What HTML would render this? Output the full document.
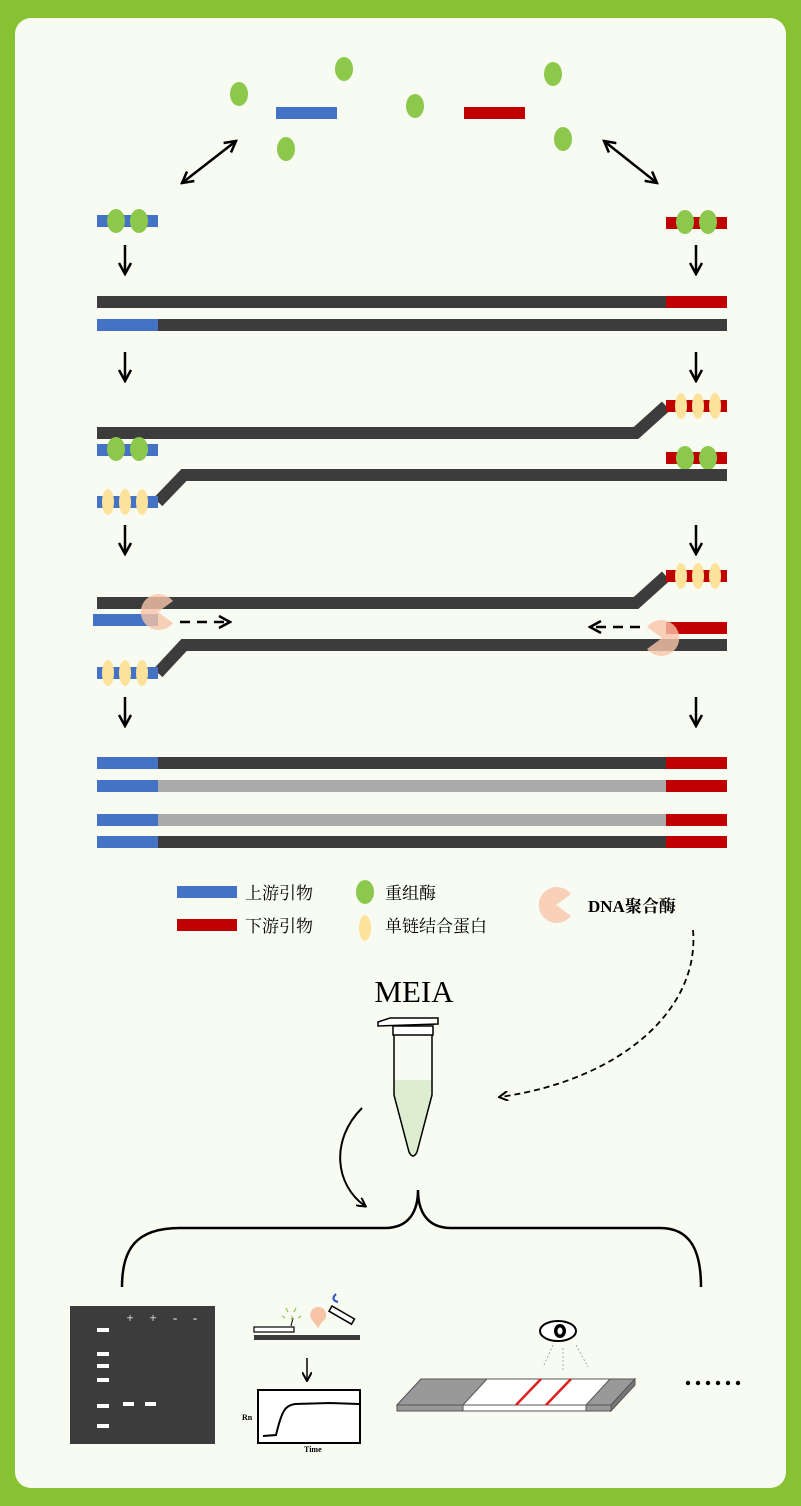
<!DOCTYPE html>
<html><head><meta charset="utf-8"><style>
html,body{margin:0;padding:0;background:#86c232;}
svg{display:block}
text{font-family:"Liberation Serif","Noto Serif CJK SC",serif;}
</style></head><body>
<svg width="801" height="1506" viewBox="0 0 801 1506" xmlns="http://www.w3.org/2000/svg">
<defs>
<marker id="ah" markerWidth="10" markerHeight="10" refX="8" refY="5" orient="auto" markerUnits="userSpaceOnUse"><path d="M0,0 L9,5 L0,10" fill="none" stroke="#000" stroke-width="2"/></marker>
<marker id="ah2" markerWidth="14" markerHeight="14" refX="12" refY="7" orient="auto-start-reverse" markerUnits="userSpaceOnUse"><path d="M1,1 L12,7 L1,13" fill="none" stroke="#000" stroke-width="2.5"/></marker>
<g id="pac"><path d="M0,0 L15,-11 A18,18 0 1 0 15,11 Z" fill="#f7c4a8" opacity="0.8"/></g>
<g id="pacR"><path d="M0,0 L-15,-11 A18,18 0 1 1 -15,11 Z" fill="#f7c4a8" opacity="0.8"/></g>
</defs>
<rect width="801" height="1506" fill="#86c232"/>
<rect x="15" y="18" width="771" height="1470" rx="16" fill="#f7fbf2"/>

<g fill="#8cc84b">
<ellipse cx="239" cy="94" rx="9" ry="12"/><ellipse cx="344" cy="69" rx="9" ry="12"/><ellipse cx="286" cy="149" rx="9" ry="12"/>
<ellipse cx="415" cy="106" rx="9" ry="12"/><ellipse cx="553" cy="74" rx="9" ry="12"/><ellipse cx="563" cy="139" rx="9" ry="12"/>
</g>
<rect x="276" y="107" width="61" height="12" fill="#4472c4"/>
<rect x="464" y="107" width="61" height="12" fill="#c00000"/>
<line x1="182" y1="183" x2="236" y2="141" stroke="#000" stroke-width="2.5" marker-end="url(#ah2)" marker-start="url(#ah2)"/>
<line x1="604" y1="141" x2="657" y2="183" stroke="#000" stroke-width="2.5" marker-end="url(#ah2)" marker-start="url(#ah2)"/>

<rect x="97" y="215" width="61" height="12" fill="#4472c4"/>
<g fill="#8cc84b"><ellipse cx="116" cy="221" rx="9" ry="12"/><ellipse cx="139" cy="221" rx="9" ry="12"/></g>
<rect x="666" y="217" width="61" height="12" fill="#c00000"/>
<g fill="#8cc84b"><ellipse cx="685" cy="222" rx="9" ry="12"/><ellipse cx="708" cy="222" rx="9" ry="12"/></g>

<g stroke="#000" stroke-width="2.5" fill="none">
<line x1="125" y1="245" x2="125" y2="274" marker-end="url(#ah2)"/>
<line x1="696" y1="245" x2="696" y2="274" marker-end="url(#ah2)"/>
<line x1="125" y1="352" x2="125" y2="381" marker-end="url(#ah2)"/>
<line x1="696" y1="352" x2="696" y2="381" marker-end="url(#ah2)"/>
<line x1="125" y1="525" x2="125" y2="554" marker-end="url(#ah2)"/>
<line x1="696" y1="525" x2="696" y2="554" marker-end="url(#ah2)"/>
<line x1="125" y1="697" x2="125" y2="726" marker-end="url(#ah2)"/>
<line x1="696" y1="697" x2="696" y2="726" marker-end="url(#ah2)"/>
</g>

<rect x="97" y="296" width="569" height="12" fill="#3c3c3c"/>
<rect x="666" y="296" width="61" height="12" fill="#c00000"/>
<rect x="97" y="319" width="61" height="12" fill="#4472c4"/>
<rect x="158" y="319" width="569" height="12" fill="#3c3c3c"/>

<path d="M97,433 L636,433 L666,406" fill="none" stroke="#3c3c3c" stroke-width="12"/>
<rect x="666" y="400" width="61" height="12" fill="#c00000"/>
<g fill="#fde29c"><ellipse cx="681" cy="406" rx="6" ry="13"/><ellipse cx="698" cy="406" rx="6" ry="13"/><ellipse cx="715" cy="406" rx="6" ry="13"/></g>
<rect x="97" y="444" width="61" height="12" fill="#4472c4"/>
<g fill="#8cc84b"><ellipse cx="116" cy="449" rx="9" ry="12"/><ellipse cx="139" cy="449" rx="9" ry="12"/></g>
<rect x="666" y="452" width="61" height="12" fill="#c00000"/>
<g fill="#8cc84b"><ellipse cx="685" cy="458" rx="9" ry="12"/><ellipse cx="708" cy="458" rx="9" ry="12"/></g>
<path d="M158,502 L184,475 L727,475" fill="none" stroke="#3c3c3c" stroke-width="12"/>
<rect x="97" y="496" width="61" height="12" fill="#4472c4"/>
<g fill="#fde29c"><ellipse cx="108" cy="502" rx="6" ry="13"/><ellipse cx="125" cy="502" rx="6" ry="13"/><ellipse cx="142" cy="502" rx="6" ry="13"/></g>

<path d="M97,603 L636,603 L666,576" fill="none" stroke="#3c3c3c" stroke-width="12"/>
<rect x="666" y="570" width="61" height="12" fill="#c00000"/>
<g fill="#fde29c"><ellipse cx="681" cy="576" rx="6" ry="13"/><ellipse cx="698" cy="576" rx="6" ry="13"/><ellipse cx="715" cy="576" rx="6" ry="13"/></g>
<rect x="93" y="614" width="65" height="12" fill="#4472c4"/>
<use href="#pac" x="158" y="612"/>
<line x1="180" y1="622" x2="230" y2="622" stroke="#000" stroke-width="2.5" stroke-dasharray="10,7" marker-end="url(#ah2)"/>
<path d="M158,673 L184,645 L727,645" fill="none" stroke="#3c3c3c" stroke-width="12"/>
<rect x="666" y="622" width="61" height="12" fill="#c00000"/>
<use href="#pacR" x="662" y="638"/>
<line x1="640" y1="627" x2="590" y2="627" stroke="#000" stroke-width="2.5" stroke-dasharray="10,7" marker-end="url(#ah2)"/>
<rect x="97" y="667" width="61" height="12" fill="#4472c4"/>
<g fill="#fde29c"><ellipse cx="108" cy="673" rx="6" ry="13"/><ellipse cx="125" cy="673" rx="6" ry="13"/><ellipse cx="142" cy="673" rx="6" ry="13"/></g>

<g>
<rect x="97" y="757" width="61" height="12" fill="#4472c4"/><rect x="158" y="757" width="508" height="12" fill="#3c3c3c"/><rect x="666" y="757" width="61" height="12" fill="#c00000"/>
<rect x="97" y="780" width="61" height="12" fill="#4472c4"/><rect x="158" y="780" width="508" height="12" fill="#aaaaaa"/><rect x="666" y="780" width="61" height="12" fill="#c00000"/>
<rect x="97" y="814" width="61" height="12" fill="#4472c4"/><rect x="158" y="814" width="508" height="12" fill="#aaaaaa"/><rect x="666" y="814" width="61" height="12" fill="#c00000"/>
<rect x="97" y="836" width="61" height="12" fill="#4472c4"/><rect x="158" y="836" width="508" height="12" fill="#3c3c3c"/><rect x="666" y="836" width="61" height="12" fill="#c00000"/>
</g>

<rect x="177" y="886" width="60" height="12" fill="#4472c4"/>
<text x="245" y="899" font-size="17">上游引物</text>
<rect x="177" y="919" width="60" height="12" fill="#c00000"/>
<text x="245" y="932" font-size="17">下游引物</text>
<ellipse cx="365" cy="892" rx="9" ry="12" fill="#8cc84b"/>
<text x="385" y="899" font-size="17">重组酶</text>
<ellipse cx="365" cy="928" rx="6" ry="13" fill="#fde29c"/>
<text x="385" y="932" font-size="17">单链结合蛋白</text>
<use href="#pac" x="556" y="905"/>
<text x="588" y="912" font-size="17" font-weight="bold">DNA聚合酶</text>

<path d="M693,930 C700,1010 620,1080 500,1097" fill="none" stroke="#000" stroke-width="1.8" stroke-dasharray="6,4" marker-end="url(#ah)"/>

<text x="414" y="1002" font-size="31" text-anchor="middle">MEIA</text>
<path d="M378,1022 L390,1018 L438,1018 L438,1024 L378,1026 Z" fill="#fff" stroke="#000" stroke-width="1.5"/>
<path d="M393,1026 L433,1026 L433,1035 L393,1035 Z" fill="#fff" stroke="#000" stroke-width="1.5"/>
<path d="M394,1080 L432,1080 L432,1095 L417,1152 Q413,1160 409,1152 L394,1095 Z" fill="#dcedd0"/>
<path d="M394,1035 L394,1095 L409,1152 Q413,1160 417,1152 L432,1095 L432,1035" fill="none" stroke="#000" stroke-width="1.5"/>

<path d="M362,1108 C330,1140 335,1185 365,1206" fill="none" stroke="#000" stroke-width="2" marker-end="url(#ah)"/>

<path d="M122,1287 C122,1250 135,1228 180,1228 L385,1228 C410,1228 418,1210 418,1190 C418,1210 426,1228 451,1228 L660,1228 C690,1228 701,1250 701,1287" fill="none" stroke="#000" stroke-width="2.5"/>

<rect x="70" y="1306" width="145" height="138" fill="#3c3c3c"/>
<g fill="#fff">
<rect x="97" y="1328" width="12" height="4"/><rect x="97" y="1352" width="12" height="4"/><rect x="97" y="1364" width="12" height="4"/><rect x="97" y="1378" width="12" height="4"/><rect x="97" y="1404" width="12" height="4"/><rect x="97" y="1424" width="12" height="4"/>
<rect x="123" y="1402" width="11" height="4"/><rect x="145" y="1402" width="11" height="4"/>
</g>
<text x="130" y="1322" font-size="13" fill="#fff" text-anchor="middle" font-family="Liberation Sans">+</text>
<text x="153" y="1322" font-size="13" fill="#fff" text-anchor="middle" font-family="Liberation Sans">+</text>
<text x="175" y="1322" font-size="13" fill="#fff" text-anchor="middle" font-family="Liberation Sans">-</text>
<text x="195" y="1322" font-size="13" fill="#fff" text-anchor="middle" font-family="Liberation Sans">-</text>

<rect x="254" y="1335" width="106" height="5" fill="#3c3c3c"/>
<rect x="254" y="1336" width="40" height="5" fill="#fff" stroke="#000" stroke-width="1.2" transform="translate(0,-9)"/>
<line x1="291" y1="1326" x2="293" y2="1318" stroke="#000" stroke-width="1"/>
<g stroke="#8cc84b" stroke-width="1.2"><line x1="288" y1="1312" x2="286" y2="1308"/><line x1="294" y1="1312" x2="296" y2="1308"/><line x1="285" y1="1318" x2="282" y2="1316"/><line x1="298" y1="1318" x2="301" y2="1316"/><line x1="292" y1="1316" x2="292" y2="1320"/></g>
<path d="M318,1328 L312,1320 A8,8 0 1 1 322,1322 Z" fill="#f7c4a8"/>
<rect x="332" y="1306" width="26" height="6" fill="#fff" stroke="#000" stroke-width="1.5" transform="rotate(30 332 1306)"/>
<path d="M336,1294 Q330,1300 338,1302" fill="none" stroke="#2a52be" stroke-width="2"/>
<line x1="307" y1="1358" x2="307" y2="1380" stroke="#000" stroke-width="1.5" marker-end="url(#ah)"/>
<rect x="258" y="1390" width="102" height="53" fill="#fff" stroke="#000" stroke-width="2"/>
<path d="M263,1436 L276,1435 C282,1410 285,1406 295,1404 L330,1403 L359,1404" fill="none" stroke="#000" stroke-width="2"/>
<text x="242" y="1420" font-size="8" font-weight="bold">Rn</text>
<text x="304" y="1452" font-size="8" font-weight="bold">Time</text>

<ellipse cx="558" cy="1331" rx="18" ry="10" fill="#fff" stroke="#000" stroke-width="2"/>
<ellipse cx="560" cy="1331" rx="6" ry="7" fill="#000"/>
<ellipse cx="560" cy="1331" rx="2.5" ry="3.5" fill="#fff"/>
<g stroke="#999" stroke-width="0.8" stroke-dasharray="2,2"><line x1="553" y1="1345" x2="543" y2="1367"/><line x1="563" y1="1348" x2="563" y2="1371"/><line x1="576" y1="1345" x2="588" y2="1367"/></g>

<path d="M397,1405 L421,1379 L635,1379 L611,1405 Z" fill="#fff" stroke="#555" stroke-width="1"/>
<path d="M397,1405 L421,1379 L487,1379 L463,1405 Z" fill="#999" stroke="#555" stroke-width="1"/>
<path d="M586,1405 L610,1379 L635,1379 L611,1405 Z" fill="#999" stroke="#555" stroke-width="1"/>
<rect x="397" y="1405" width="66" height="6" fill="#999" stroke="#555" stroke-width="1"/>
<rect x="463" y="1405" width="123" height="6" fill="#fff" stroke="#555" stroke-width="1"/>
<rect x="586" y="1405" width="25" height="6" fill="#999" stroke="#555" stroke-width="1"/>
<path d="M611,1411 L635,1385 L635,1379 L611,1405 Z" fill="#777" stroke="#555" stroke-width="1"/>
<line x1="516" y1="1405" x2="541" y2="1379" stroke="#e02020" stroke-width="2.5"/>
<line x1="546" y1="1405" x2="571" y2="1379" stroke="#e02020" stroke-width="2.5"/>

<g fill="#000"><circle cx="688" cy="1383" r="2.2"/><circle cx="698" cy="1383" r="2.2"/><circle cx="708" cy="1383" r="2.2"/><circle cx="718" cy="1383" r="2.2"/><circle cx="728" cy="1383" r="2.2"/><circle cx="738" cy="1383" r="2.2"/></g>
</svg>
</body></html>
